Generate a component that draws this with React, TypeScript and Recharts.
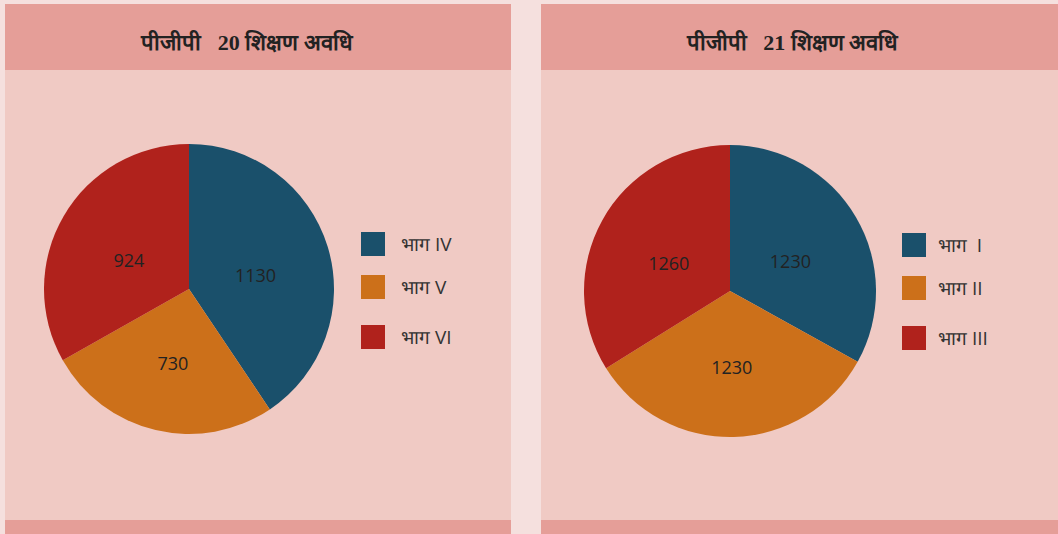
import React from 'react';
import { PieChart, Pie, Cell, Legend } from 'recharts';

const leftNames = ['भाग IV', 'भाग V', 'भाग VI'];
const leftValues = [1130, 730, 924];
const rightNames = ['भाग  I', 'भाग II', 'भाग III'];
const rightValues = [1230, 1230, 1260];
const titles = ['पीजीपी   20 शिक्षण अवधि', 'पीजीपी   21 शिक्षण अवधि'];

const COLORS = ['#1A506B', '#CC701A', '#B0221C'];
const RAD = Math.PI / 180;

const renderLabel = (props: any) => {
  const { cx, cy, midAngle, outerRadius, value } = props;
  const r = outerRadius * 0.48;
  const x = cx + r * Math.cos(-midAngle * RAD);
  const y = cy + r * Math.sin(-midAngle * RAD) + 6;
  return (
    <text x={x} y={y} textAnchor="middle" dominantBaseline="central" fill="#222" fontSize={18} fontFamily="'Open Sans', sans-serif">
      {value}
    </text>
  );
};

const LegendBox = (props: any) => {
  const { payload, gap } = props;
  return (
    <div>
      {payload.map((p: any, i: number) => (
        <div key={i} style={{ display: 'flex', alignItems: 'center', height: 24, marginTop: i === 0 ? 0 : i === 2 ? 26 : 19 }}>
          <div style={{ width: 24, height: 24, background: p.color }} />
          <span style={{ marginLeft: gap, fontSize: 19, color: '#333', fontFamily: "'Open Sans', sans-serif", whiteSpace: 'pre' }}>{p.value}</span>
        </div>
      ))}
    </div>
  );
};

const Panel = ({ left, width, title, titleShift, names, values, cx, cy, r, legendLeft, legendTop, gap }: any) => {
  const data = names.map((n: string, i: number) => ({ name: n, value: values[i] }));
  return (
    <div style={{ position: 'absolute', left, top: 0, width, height: 534 }}>
      <div style={{ position: 'absolute', left: 0, top: 4, width, height: 66, background: '#E59E98', display: 'flex', alignItems: 'center', justifyContent: 'center' }}>
        <span style={{ fontFamily: "'Liberation Serif', serif", fontWeight: 'bold', fontSize: 22, color: '#222', whiteSpace: 'pre', marginLeft: titleShift, marginTop: 8 }}>{title}</span>
      </div>
      <div style={{ position: 'absolute', left: 0, top: 70, width, height: 450, background: '#F0CAC4' }}>
        <PieChart width={width} height={450} margin={{ top: 0, right: 0, bottom: 0, left: 0 }}>
          <Pie
            data={data}
            dataKey="value"
            nameKey="name"
            cx={cx}
            cy={cy}
            outerRadius={r}
            startAngle={90}
            endAngle={-270}
            stroke="none"
            label={renderLabel}
            labelLine={false}
            isAnimationActive={false}
          >
            {data.map((_: any, i: number) => (
              <Cell key={i} fill={COLORS[i]} />
            ))}
          </Pie>
          <Legend
            layout="vertical"
            content={<LegendBox gap={gap} />}
            wrapperStyle={{ left: legendLeft, top: legendTop, width: 150 }}
          />
        </PieChart>
      </div>
      <div style={{ position: 'absolute', left: 0, top: 520, width, height: 14, background: '#E59E98' }} />
    </div>
  );
};

export default function App() {
  return (
    <div style={{ position: 'absolute', left: 0, top: 0, width: 1058, height: 534, background: '#F5E0DE', overflow: 'hidden' }}>
      <Panel left={5} width={506} title={titles[0]} titleShift={-22} names={leftNames} values={leftValues} cx={184} cy={219} r={145} legendLeft={356} legendTop={162} gap={16} />
      <Panel left={541} width={517} title={titles[1]} titleShift={-14} names={rightNames} values={rightValues} cx={189} cy={221} r={146} legendLeft={361} legendTop={163} gap={12} />
    </div>
  );
}
